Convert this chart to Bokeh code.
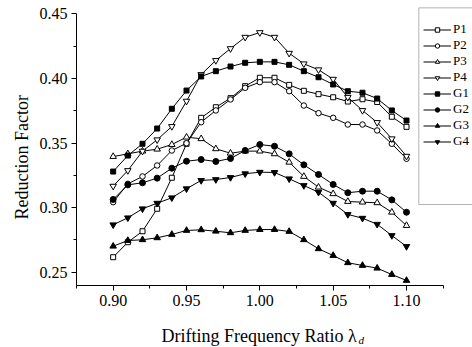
import math
from bokeh.plotting import figure
from bokeh.layouts import column
from bokeh.models import (Range1d, FixedTicker, PrintfTickFormatter, Legend,
                          LegendItem, BoxAnnotation, Label, Title)
from bokeh.embed import file_html
from bokeh.resources import INLINE

# ---- data ----
ratio = [0.90, 0.91, 0.92, 0.93, 0.94, 0.95, 0.96, 0.97, 0.98, 0.99, 1.00,
         1.01, 1.02, 1.03, 1.04, 1.05, 1.06, 1.07, 1.08, 1.09, 1.10]

P1 = [0.2616, 0.2732, 0.2817, 0.2991, 0.3231, 0.3494, 0.3695, 0.3777, 0.3847, 0.3940, 0.4005,
      0.4005, 0.3950, 0.3904, 0.3878, 0.3854, 0.3821, 0.3839, 0.3817, 0.3703, 0.3625]
P2 = [0.3042, 0.3184, 0.3241, 0.3326, 0.3442, 0.3498, 0.3661, 0.3752, 0.3837, 0.3927, 0.3971,
      0.3971, 0.3901, 0.3790, 0.3731, 0.3695, 0.3643, 0.3643, 0.3597, 0.3494, 0.3378]
P3 = [0.3395, 0.3416, 0.3437, 0.3452, 0.3488, 0.3545, 0.3533, 0.3455, 0.3421, 0.3437, 0.3437,
      0.3416, 0.3351, 0.3241, 0.3158, 0.3107, 0.3047, 0.3042, 0.3037, 0.2964, 0.2861]
P4 = [0.3166, 0.3287, 0.3437, 0.3525, 0.3628, 0.3824, 0.4030, 0.4139, 0.4231, 0.4319, 0.4355,
      0.4319, 0.4195, 0.4113, 0.4067, 0.3994, 0.3854, 0.3752, 0.3659, 0.3533, 0.3398]
G1 = [0.3279, 0.3403, 0.3494, 0.3612, 0.3765, 0.3906, 0.4015, 0.4056, 0.4092, 0.4121, 0.4128,
      0.4128, 0.4105, 0.4056, 0.4009, 0.3953, 0.3901, 0.3889, 0.3844, 0.3752, 0.3674]
G2 = [0.3063, 0.3176, 0.3192, 0.3228, 0.3305, 0.3359, 0.3372, 0.3357, 0.3380, 0.3442, 0.3488,
      0.3475, 0.3416, 0.3331, 0.3256, 0.3179, 0.3115, 0.3127, 0.3127, 0.3060, 0.2964]
G3 = [0.2701, 0.2745, 0.2751, 0.2766, 0.2792, 0.2823, 0.2828, 0.2817, 0.2805, 0.2823, 0.2830,
      0.2830, 0.2815, 0.2751, 0.2681, 0.2629, 0.2573, 0.2552, 0.2531, 0.2482, 0.2436]
G4 = [0.2867, 0.2921, 0.2991, 0.3034, 0.3076, 0.3146, 0.3210, 0.3217, 0.3233, 0.3262, 0.3274,
      0.3272, 0.3223, 0.3171, 0.3119, 0.3034, 0.2947, 0.2918, 0.2871, 0.2784, 0.2699]

series_names = ["P1", "P2", "P3", "P4", "G1", "G2", "G3", "G4"]
series_values = [P1, P2, P3, P4, G1, G2, G3, G4]

x_ticks = [0.90, 0.95, 1.00, 1.05, 1.10]
x_minor = [0.875, 0.925, 0.975, 1.025, 1.075, 1.125]
y_ticks = [0.25, 0.30, 0.35, 0.40, 0.45]
y_minor = [0.275, 0.325, 0.375, 0.425]

x_title = "Drifting Frequency Ratio \u03bb"
x_title_sub = "d"
y_title = "Reduction Factor"

# ---- styles ----
markers = ["square", "circle", "triangle", "inverted_triangle",
           "square", "circle", "triangle", "inverted_triangle"]
fills = ["white"] * 4 + ["black"] * 4
sizes = [5, 5.5, 6.5, 6.5, 5, 6, 6.5, 6.5]
FONT = "Liberation Serif"

p = figure(width=472, height=318, output_backend="svg", toolbar_location=None,
           x_range=Range1d(0.875, 1.145), y_range=Range1d(0.2397, 0.4603),
           min_border_left=76, min_border_right=0, min_border_top=0,
           min_border_bottom=33)
p.outline_line_color = None
p.xgrid.visible = False
p.ygrid.visible = False
p.background_fill_color = "white"
p.border_fill_color = "white"

items = []
for name, ys, mk, fc, sz in zip(series_names, series_values, markers, fills, sizes):
    lr = p.line(ratio, ys, line_color="black", line_width=1)
    sr = p.scatter(ratio, ys, marker=mk, size=sz, line_color="black",
                   fill_color=fc, line_width=1)
    items.append(LegendItem(label=name, renderers=[lr, sr]))

for ax in (p.xaxis[0], p.yaxis[0]):
    ax.axis_line_color = "black"
    ax.major_tick_line_color = "black"
    ax.minor_tick_line_color = "black"
    ax.major_tick_in = 0
    ax.major_tick_out = 5
    ax.minor_tick_in = 0
    ax.minor_tick_out = 3
    ax.major_label_text_font = FONT
    ax.major_label_text_font_size = "16px"
    ax.major_label_text_color = "black"
    ax.formatter = PrintfTickFormatter(format="%.2f")

p.xaxis[0].ticker = FixedTicker(ticks=x_ticks, minor_ticks=x_minor)
p.yaxis[0].ticker = FixedTicker(ticks=y_ticks, minor_ticks=y_minor)
p.xaxis[0].bounds = (0.875, 1.125)
p.yaxis[0].bounds = (0.2397, 0.45)
p.xaxis[0].major_label_standoff = 4
p.yaxis[0].major_label_standoff = 4

# y axis title
p.add_layout(Title(text=y_title, align="left", offset=66,
                   text_font=FONT, text_font_size="18px",
                   text_font_style="normal", text_color="black"), "left")

# legend frame
p.add_layout(BoxAnnotation(left=1.1084, right=1.2, bottom=0.3024, top=0.4546,
                           fill_alpha=0, line_color="black", line_width=1))

legend = Legend(items=items, location=(347, 136), padding=0, margin=0,
                spacing=0, glyph_width=28, glyph_height=11, label_height=15,
                label_standoff=2, label_text_font=FONT,
                label_text_font_size="13px", label_text_color="black",
                border_line_alpha=0, background_fill_alpha=0)
p.add_layout(legend)

# x axis title strip (allows the subscript)
q = figure(width=472, height=29, output_backend="svg", toolbar_location=None,
           x_range=Range1d(0, 472), y_range=Range1d(0, 29),
           x_axis_type=None, y_axis_type=None, min_border=0)
q.outline_line_color = None
q.background_fill_color = "white"
q.border_fill_color = "white"
q.add_layout(Label(x=334, y=11.5, text=x_title, text_align="right",
                   text_baseline="alphabetic", text_font=FONT,
                   text_font_size="18px", text_color="black"))
q.add_layout(Label(x=336, y=7.5, text=x_title_sub, text_align="left",
                   text_baseline="alphabetic", text_font=FONT,
                   text_font_style="italic", text_font_size="11px",
                   text_color="black"))

layout = column(p, q, spacing=0)
open("out.html", "w").write(file_html(layout, INLINE))
